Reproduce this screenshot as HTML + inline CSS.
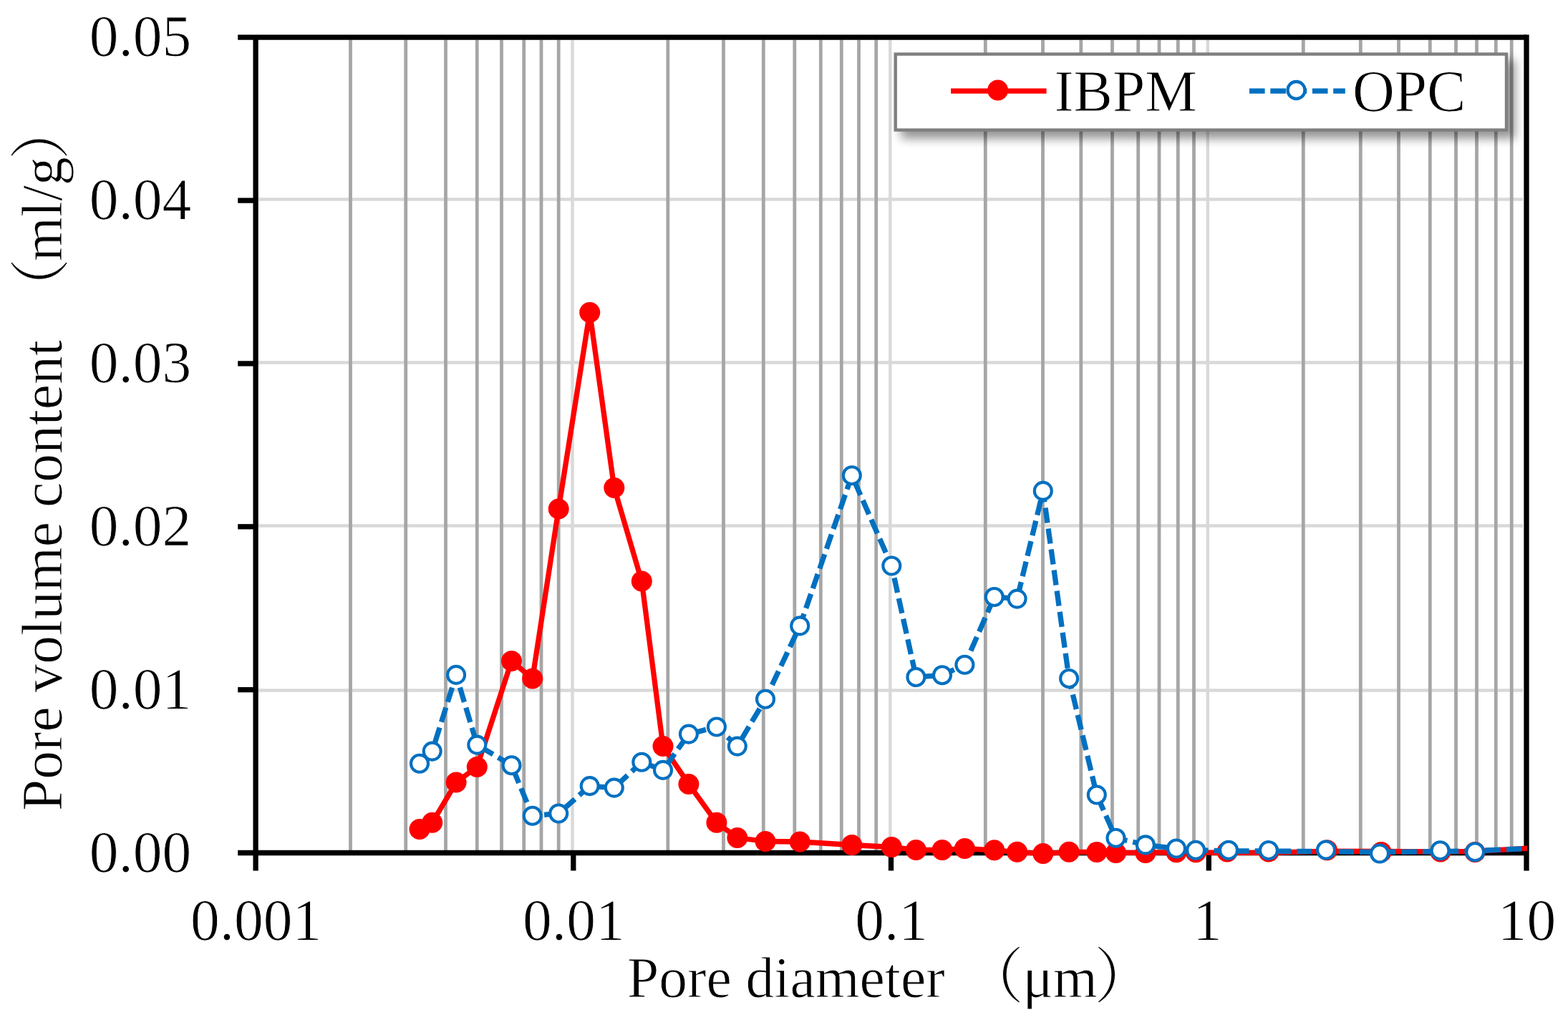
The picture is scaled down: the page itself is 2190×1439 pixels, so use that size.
<!DOCTYPE html>
<html lang="en"><head><meta charset="utf-8"><title>Pore volume content vs pore diameter</title>
<style>html,body{margin:0;padding:0;background:#fff}body{width:2190px;height:1439px}svg{display:block}text{font-family:"Liberation Serif","Noto Serif CJK SC",serif;font-size:79.50px;fill:#000;stroke:#fff;stroke-width:0.9px}.big text{font-size:81.5px}text.cjk{font-family:"Liberation Serif","Noto Serif CJK SC",serif;font-size:84.5px}</style></head><body>
<svg width="2190" height="1439" viewBox="0 0 2190 1439" role="img" aria-label="Pore volume content versus pore diameter for IBPM and OPC">
<defs><filter id="sh" x="-5%" y="-30%" width="115%" height="190%"><feGaussianBlur in="SourceAlpha" stdDeviation="7"/><feOffset dx="9.5" dy="9.5"/><feComponentTransfer><feFuncA type="linear" slope="0.42"/></feComponentTransfer></filter><clipPath id="pc"><rect x="357.1" y="52.2" width="1775.9" height="1177.8"/></clipPath></defs>
<rect width="2190" height="1439" fill="#fff"/>
<g stroke="#d9d9d9" stroke-width="4.4">
<line x1="357.1" y1="278.50" x2="2127.0" y2="278.50"/>
<line x1="357.1" y1="506.45" x2="2127.0" y2="506.45"/>
<line x1="357.1" y1="734.45" x2="2127.0" y2="734.45"/>
<line x1="357.1" y1="964.45" x2="2127.0" y2="964.45"/>
<line x1="799.50" y1="55.4" x2="799.50" y2="1191.5"/>
<line x1="1243.30" y1="55.4" x2="1243.30" y2="1191.5"/>
<line x1="1686.80" y1="55.4" x2="1686.80" y2="1191.5"/>
</g>
<g stroke="#a6a6a6" stroke-width="4.8">
<line x1="489.50" y1="55.4" x2="489.50" y2="1191.5"/>
<line x1="566.70" y1="55.4" x2="566.70" y2="1191.5"/>
<line x1="622.50" y1="55.4" x2="622.50" y2="1191.5"/>
<line x1="666.30" y1="55.4" x2="666.30" y2="1191.5"/>
<line x1="700.50" y1="55.4" x2="700.50" y2="1191.5"/>
<line x1="731.70" y1="55.4" x2="731.70" y2="1191.5"/>
<line x1="756.00" y1="55.4" x2="756.00" y2="1191.5"/>
<line x1="780.20" y1="55.4" x2="780.20" y2="1191.5"/>
<line x1="932.80" y1="55.4" x2="932.80" y2="1191.5"/>
<line x1="1010.50" y1="55.4" x2="1010.50" y2="1191.5"/>
<line x1="1066.30" y1="55.4" x2="1066.30" y2="1191.5"/>
<line x1="1109.80" y1="55.4" x2="1109.80" y2="1191.5"/>
<line x1="1146.30" y1="55.4" x2="1146.30" y2="1191.5"/>
<line x1="1175.30" y1="55.4" x2="1175.30" y2="1191.5"/>
<line x1="1199.50" y1="55.4" x2="1199.50" y2="1191.5"/>
<line x1="1223.70" y1="55.4" x2="1223.70" y2="1191.5"/>
<line x1="1376.30" y1="55.4" x2="1376.30" y2="1191.5"/>
<line x1="1456.50" y1="55.4" x2="1456.50" y2="1191.5"/>
<line x1="1509.80" y1="55.4" x2="1509.80" y2="1191.5"/>
<line x1="1553.50" y1="55.4" x2="1553.50" y2="1191.5"/>
<line x1="1589.70" y1="55.4" x2="1589.70" y2="1191.5"/>
<line x1="1619.00" y1="55.4" x2="1619.00" y2="1191.5"/>
<line x1="1645.30" y1="55.4" x2="1645.30" y2="1191.5"/>
<line x1="1667.50" y1="55.4" x2="1667.50" y2="1191.5"/>
<line x1="1820.30" y1="55.4" x2="1820.30" y2="1191.5"/>
<line x1="1900.30" y1="55.4" x2="1900.30" y2="1191.5"/>
<line x1="1953.50" y1="55.4" x2="1953.50" y2="1191.5"/>
<line x1="1997.30" y1="55.4" x2="1997.30" y2="1191.5"/>
<line x1="2033.50" y1="55.4" x2="2033.50" y2="1191.5"/>
<line x1="2062.50" y1="55.4" x2="2062.50" y2="1191.5"/>
<line x1="2089.30" y1="55.4" x2="2089.30" y2="1191.5"/>
<line x1="2111.20" y1="55.4" x2="2111.20" y2="1191.5"/>
</g>
<rect x="1248.5" y="73.4" width="857.7" height="110.4" fill="#000" filter="url(#sh)"/>
<rect x="1250.7" y="75.6" width="853.3" height="106.0" fill="#fff" stroke="#7f7f7f" stroke-width="4.4"/>
<g stroke="#000" stroke-width="7.3" fill="none">
<line x1="332.2" y1="52.2" x2="2132.0" y2="52.2"/>
<line x1="332.2" y1="1191.5" x2="2132.0" y2="1191.5"/>
<line x1="357.1" y1="52.2" x2="357.1" y2="1216.4"/>
<line x1="2132.0" y1="48.6" x2="2132.0" y2="1216.4"/>
<line x1="332.2" y1="963.65" x2="357.1" y2="963.65"/>
<line x1="332.2" y1="735.80" x2="357.1" y2="735.80"/>
<line x1="332.2" y1="507.95" x2="357.1" y2="507.95"/>
<line x1="332.2" y1="280.10" x2="357.1" y2="280.10"/>
<line x1="800.80" y1="1191.5" x2="800.80" y2="1216.4"/>
<line x1="1244.50" y1="1191.5" x2="1244.50" y2="1216.4"/>
<line x1="1688.30" y1="1191.5" x2="1688.30" y2="1216.4"/>
</g>
<g clip-path="url(#pc)">
<polyline points="586.0,1158.5 603.7,1149.3 637.1,1093.1 666.3,1071.4 714.5,923.4 743.7,948.1 780.2,710.9 823.7,436.4 857.8,681.4 896.3,812.1 926.0,1042.6 961.9,1095.4 1000.9,1149.3 1029.8,1170.5 1069.0,1175.5 1117.2,1176.0 1189.8,1180.5 1245.3,1183.5 1279.4,1187.5 1316.0,1187.5 1347.4,1185.5 1388.7,1187.8 1420.6,1190.3 1456.8,1192.6 1493.1,1190.3 1531.8,1190.4 1558.5,1191.4 1599.9,1191.4 1643.0,1190.7 1670.1,1191.2 1716.0,1191.3 1771.9,1191.3 1852.0,1189.2 1927.0,1189.3 2011.5,1189.9 2060.2,1189.4 2133.0,1185.2" fill="none" stroke="#ff0000" stroke-width="7.3" stroke-linejoin="round" stroke-linecap="butt"/>
<g fill="#ff0000">
<circle cx="586.0" cy="1158.5" r="14.5"/>
<circle cx="603.7" cy="1149.3" r="14.5"/>
<circle cx="637.1" cy="1093.1" r="14.5"/>
<circle cx="666.3" cy="1071.4" r="14.5"/>
<circle cx="714.5" cy="923.4" r="14.5"/>
<circle cx="743.7" cy="948.1" r="14.5"/>
<circle cx="780.2" cy="710.9" r="14.5"/>
<circle cx="823.7" cy="436.4" r="14.5"/>
<circle cx="857.8" cy="681.4" r="14.5"/>
<circle cx="896.3" cy="812.1" r="14.5"/>
<circle cx="926.0" cy="1042.6" r="14.5"/>
<circle cx="961.9" cy="1095.4" r="14.5"/>
<circle cx="1000.9" cy="1149.3" r="14.5"/>
<circle cx="1029.8" cy="1170.5" r="14.5"/>
<circle cx="1069.0" cy="1175.5" r="14.5"/>
<circle cx="1117.2" cy="1176.0" r="14.5"/>
<circle cx="1189.8" cy="1180.5" r="14.5"/>
<circle cx="1245.3" cy="1183.5" r="14.5"/>
<circle cx="1279.4" cy="1187.5" r="14.5"/>
<circle cx="1316.0" cy="1187.5" r="14.5"/>
<circle cx="1347.4" cy="1185.5" r="14.5"/>
<circle cx="1388.7" cy="1187.8" r="14.5"/>
<circle cx="1420.6" cy="1190.3" r="14.5"/>
<circle cx="1456.8" cy="1192.6" r="14.5"/>
<circle cx="1493.1" cy="1190.3" r="14.5"/>
<circle cx="1531.8" cy="1190.4" r="14.5"/>
<circle cx="1558.5" cy="1191.4" r="14.5"/>
<circle cx="1599.9" cy="1191.4" r="14.5"/>
<circle cx="1643.0" cy="1190.7" r="14.5"/>
<circle cx="1670.1" cy="1190.7" r="14.5"/>
<circle cx="1714.0" cy="1189.9" r="14.5"/>
<circle cx="1772.0" cy="1189.9" r="14.5"/>
<circle cx="1853.5" cy="1187.8" r="14.5"/>
<circle cx="1929.1" cy="1190.4" r="14.5"/>
<circle cx="2011.9" cy="1189.9" r="14.5"/>
<circle cx="2060.1" cy="1190.5" r="14.5"/>
</g>
<g fill="none" stroke="#0070c0" stroke-width="7.3" stroke-linecap="butt" stroke-dasharray="21.20 8.10">
<line x1="586.0" y1="1066.8" x2="603.7" y2="1049.6" stroke-dashoffset="20.40"/>
<line x1="603.7" y1="1049.6" x2="637.1" y2="942.9" stroke-dashoffset="15.78"/>
<line x1="637.1" y1="942.9" x2="666.3" y2="1040.6" stroke-dashoffset="10.89"/>
<line x1="666.3" y1="1040.6" x2="714.5" y2="1069.3" stroke-dashoffset="24.46"/>
<line x1="714.5" y1="1069.3" x2="743.7" y2="1139.8" stroke-dashoffset="23.96"/>
<line x1="743.7" y1="1139.8" x2="780.2" y2="1136.5" stroke-dashoffset="12.86"/>
<line x1="780.2" y1="1136.5" x2="823.7" y2="1098.1" stroke-dashoffset="20.21"/>
<line x1="823.7" y1="1098.1" x2="857.8" y2="1100.6" stroke-dashoffset="20.14"/>
<line x1="857.8" y1="1100.6" x2="896.3" y2="1064.8" stroke-dashoffset="25.03"/>
<line x1="896.3" y1="1064.8" x2="926.0" y2="1075.9" stroke-dashoffset="20.00"/>
<line x1="926.0" y1="1075.9" x2="961.9" y2="1025.6" stroke-dashoffset="22.41"/>
<line x1="961.9" y1="1025.6" x2="1000.9" y2="1015.5" stroke-dashoffset="25.61"/>
<line x1="1000.9" y1="1015.5" x2="1029.8" y2="1042.6" stroke-dashoffset="8.29"/>
<line x1="1029.8" y1="1042.6" x2="1069.0" y2="976.7" stroke-dashoffset="18.61"/>
<line x1="1069.0" y1="976.7" x2="1117.2" y2="874.4" stroke-dashoffset="7.39"/>
<line x1="1117.2" y1="874.4" x2="1189.8" y2="664.2" stroke-dashoffset="3.27"/>
<line x1="1189.8" y1="664.2" x2="1245.3" y2="790.5" stroke-dashoffset="20.56"/>
<line x1="1245.3" y1="790.5" x2="1279.4" y2="946.0" stroke-dashoffset="12.02"/>
<line x1="1279.4" y1="946.0" x2="1316.0" y2="943.2" stroke-dashoffset="24.71"/>
<line x1="1316.0" y1="943.2" x2="1347.4" y2="928.8" stroke-dashoffset="2.82"/>
<line x1="1347.4" y1="928.8" x2="1388.7" y2="834.0" stroke-dashoffset="8.06"/>
<line x1="1388.7" y1="834.0" x2="1420.6" y2="836.6" stroke-dashoffset="23.57"/>
<line x1="1420.6" y1="836.6" x2="1456.8" y2="685.9" stroke-dashoffset="26.27"/>
<line x1="1456.8" y1="685.9" x2="1493.1" y2="948.0" stroke-dashoffset="5.46"/>
<line x1="1493.1" y1="948.0" x2="1531.8" y2="1110.5" stroke-dashoffset="6.36"/>
<line x1="1531.8" y1="1110.5" x2="1558.5" y2="1170.8" stroke-dashoffset="26.91"/>
<line x1="1558.5" y1="1170.8" x2="1599.9" y2="1180.4" stroke-dashoffset="4.95"/>
<line x1="1599.9" y1="1180.4" x2="1643.0" y2="1185.5" stroke-dashoffset="19.15"/>
<line x1="1643.0" y1="1185.5" x2="1670.1" y2="1187.7" stroke-dashoffset="4.95"/>
<line x1="1670.1" y1="1187.7" x2="1716.0" y2="1189.0" stroke-dashoffset="3.84"/>
<line x1="1716.0" y1="1189.0" x2="1771.9" y2="1189.0" stroke-dashoffset="21.94"/>
<line x1="1771.9" y1="1189.0" x2="1852.0" y2="1189.6" stroke-dashoffset="19.24"/>
<line x1="1852.0" y1="1189.6" x2="1927.0" y2="1190.4" stroke-dashoffset="11.44"/>
<line x1="1927.0" y1="1190.4" x2="2011.5" y2="1189.7" stroke-dashoffset="28.01"/>
<line x1="2011.5" y1="1189.7" x2="2060.2" y2="1188.6" stroke-dashoffset="24.72"/>
<line x1="2060.2" y1="1188.6" x2="2133.0" y2="1185.5" stroke-dashoffset="14.86"/>
</g>
<g fill="#fff" stroke="#0070c0" stroke-width="4.1">
<circle cx="586.0" cy="1066.8" r="12.0"/>
<circle cx="603.7" cy="1049.6" r="12.0"/>
<circle cx="637.1" cy="942.9" r="12.0"/>
<circle cx="666.3" cy="1040.6" r="12.0"/>
<circle cx="714.5" cy="1069.3" r="12.0"/>
<circle cx="743.7" cy="1139.8" r="12.0"/>
<circle cx="780.2" cy="1136.5" r="12.0"/>
<circle cx="823.7" cy="1098.1" r="12.0"/>
<circle cx="857.8" cy="1100.6" r="12.0"/>
<circle cx="896.3" cy="1064.8" r="12.0"/>
<circle cx="926.0" cy="1075.9" r="12.0"/>
<circle cx="961.9" cy="1025.6" r="12.0"/>
<circle cx="1000.9" cy="1015.5" r="12.0"/>
<circle cx="1029.8" cy="1042.6" r="12.0"/>
<circle cx="1069.0" cy="976.7" r="12.0"/>
<circle cx="1117.2" cy="874.4" r="12.0"/>
<circle cx="1189.8" cy="664.2" r="12.0"/>
<circle cx="1245.3" cy="790.5" r="12.0"/>
<circle cx="1279.4" cy="946.0" r="12.0"/>
<circle cx="1316.0" cy="943.2" r="12.0"/>
<circle cx="1347.4" cy="928.8" r="12.0"/>
<circle cx="1388.7" cy="834.0" r="12.0"/>
<circle cx="1420.6" cy="836.6" r="12.0"/>
<circle cx="1456.8" cy="685.9" r="12.0"/>
<circle cx="1493.1" cy="948.0" r="12.0"/>
<circle cx="1531.8" cy="1110.5" r="12.0"/>
<circle cx="1558.5" cy="1170.8" r="12.0"/>
<circle cx="1599.9" cy="1180.4" r="12.0"/>
<circle cx="1643.0" cy="1185.5" r="12.0"/>
<circle cx="1670.1" cy="1187.7" r="12.0"/>
<circle cx="1716.0" cy="1187.7" r="12.0"/>
<circle cx="1771.9" cy="1188.0" r="12.0"/>
<circle cx="1852.0" cy="1187.5" r="12.0"/>
<circle cx="1927.0" cy="1192.5" r="12.0"/>
<circle cx="2011.5" cy="1188.2" r="12.0"/>
<circle cx="2060.2" cy="1190.2" r="12.0"/>
</g>
</g>
<line x1="1328.1" y1="127.2" x2="1461.6" y2="127.2" stroke="#ff0000" stroke-width="7.3"/>
<circle cx="1393.6" cy="126.0" r="14.5" fill="#ff0000"/>
<line x1="1744.8" y1="127.2" x2="1878.8" y2="127.2" stroke="#0070c0" stroke-width="7.3" stroke-dasharray="21.6 7.7" stroke-dashoffset="-0.2"/>
<circle cx="1810.5" cy="126.0" r="12.0" fill="#fff" stroke="#0070c0" stroke-width="4.3"/>
<g class="big">
<text x="1472.4" y="154.6">IBPM</text>
<text x="1888.9" y="154.6">OPC</text>
<text x="267.3" y="1218.1" text-anchor="end">0.00</text>
<text x="267.3" y="990.0" text-anchor="end">0.01</text>
<text x="267.3" y="761.9" text-anchor="end">0.02</text>
<text x="267.3" y="533.8" text-anchor="end">0.03</text>
<text x="267.3" y="305.7" text-anchor="end">0.04</text>
<text x="267.3" y="77.7" text-anchor="end">0.05</text>
<text x="357.6" y="1313.1" text-anchor="middle">0.001</text>
<text x="801.4" y="1313.1" text-anchor="middle">0.01</text>
<text x="1245.1" y="1313.1" text-anchor="middle">0.1</text>
<text x="1686.3" y="1313.1" text-anchor="middle">1</text>
<text x="2132.6" y="1313.1" text-anchor="middle">10</text>
</g>
<text x="876" y="1393.2">Pore diameter</text>
<text class="cjk" x="1345.4" y="1394.3">（</text>
<text x="1428.5" y="1393.2">μm</text>
<text class="cjk" x="1528.1" y="1394.3">）</text>
<g transform="translate(85.5 1133) rotate(-90)">
<text x="0" y="0">Pore volume content</text>
<text class="cjk" x="687.8" y="1.4">（</text>
<text x="768" y="0">ml/g</text>
<text class="cjk" x="909.5" y="1.4">）</text>
</g>
</svg></body></html>
